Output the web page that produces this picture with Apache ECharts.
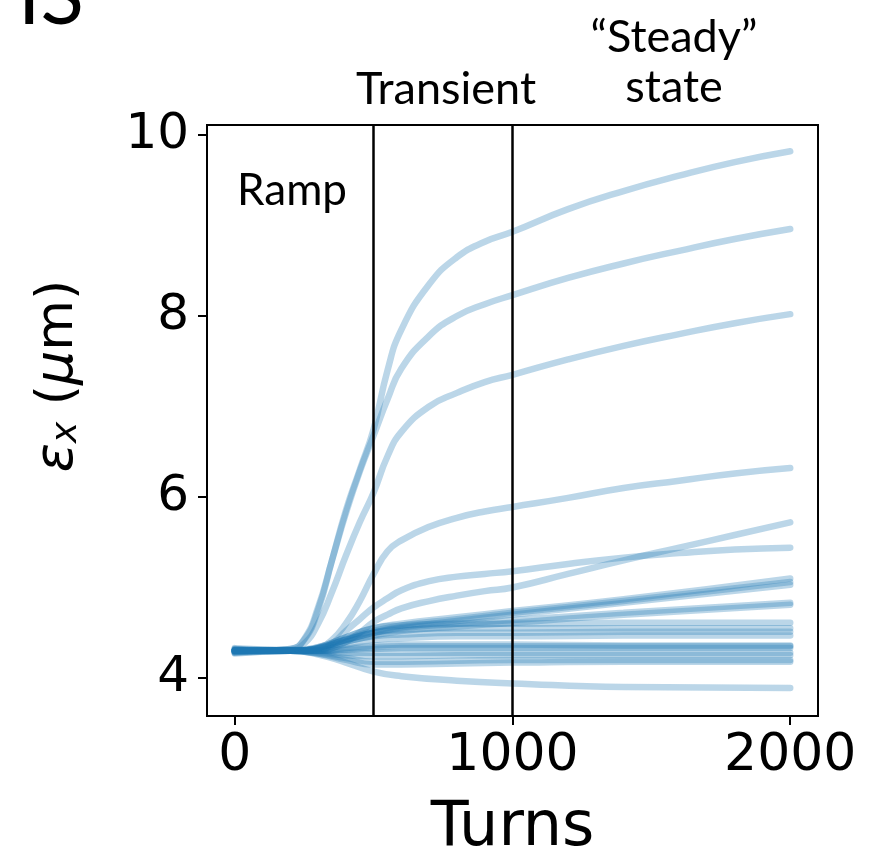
<!DOCTYPE html>
<html>
<head>
<meta charset="utf-8">
<script src="https://cdn.jsdelivr.net/npm/echarts@6/dist/echarts.min.js"></script>
<style>
  html, body { margin: 0; padding: 0; background: #fff; }
  #chart { width: 887px; height: 867px; }
</style>
</head>
<body>
<div id="chart"></div>
<script>
// turns sampled for the fast-growing curves
const turnsFine = [0, 100, 200, 250, 300, 350, 400, 450, 500, 550, 600, 700, 800, 900, 1000, 1200, 1400, 1600, 1800, 2000];
// turns sampled for the slow curves
const turnsCoarse = [0, 200, 300, 400, 500, 600, 800, 1000, 1400, 2000];

const curveA = [4.3, 4.3, 4.32, 4.42, 4.75, 5.3, 5.85, 6.3, 6.75, 7.4, 7.85, 8.35, 8.65, 8.82, 8.93, 9.18, 9.38, 9.55, 9.7, 9.82];
const curveB = [4.31, 4.3, 4.32, 4.43, 4.78, 5.3, 5.82, 6.28, 6.68, 7.08, 7.42, 7.78, 8.0, 8.13, 8.23, 8.42, 8.58, 8.72, 8.85, 8.96];
const curveC = [4.29, 4.3, 4.31, 4.38, 4.6, 4.95, 5.35, 5.72, 6.05, 6.45, 6.72, 7.0, 7.15, 7.27, 7.35, 7.52, 7.67, 7.8, 7.92, 8.02];
const curveD = [4.3, 4.3, 4.3, 4.3, 4.33, 4.42, 4.6, 4.85, 5.15, 5.4, 5.52, 5.67, 5.77, 5.84, 5.89, 5.99, 6.1, 6.18, 6.26, 6.32];
const curveE = [4.32, 4.3, 4.3, 4.3, 4.3, 4.38, 4.52, 4.65, 4.78, 4.88, 4.97, 5.07, 5.12, 5.15, 5.18, 5.26, 5.33, 5.38, 5.42, 5.44];
const curveF = [4.28, 4.3, 4.3, 4.3, 4.3, 4.33, 4.4, 4.5, 4.62, 4.7, 4.77, 4.85, 4.91, 4.96, 5.0, 5.15, 5.3, 5.44, 5.58, 5.72];

const slowCurves = [
  [4.3, 4.3, 4.34, 4.45, 4.55, 4.6, 4.67, 4.74, 4.87, 5.1],
  [4.31, 4.3, 4.33, 4.43, 4.52, 4.58, 4.65, 4.72, 4.85, 5.06],
  [4.3, 4.3, 4.33, 4.42, 4.5, 4.56, 4.63, 4.7, 4.83, 5.03],
  [4.3, 4.3, 4.33, 4.42, 4.5, 4.55, 4.6, 4.64, 4.72, 4.83],
  [4.29, 4.3, 4.32, 4.4, 4.47, 4.52, 4.57, 4.61, 4.7, 4.81],
  [4.33, 4.31, 4.34, 4.45, 4.55, 4.58, 4.6, 4.6, 4.61, 4.61],
  [4.3, 4.3, 4.33, 4.42, 4.5, 4.53, 4.55, 4.55, 4.55, 4.55],
  [4.28, 4.3, 4.32, 4.4, 4.46, 4.48, 4.5, 4.5, 4.51, 4.51],
  [4.3, 4.3, 4.31, 4.37, 4.42, 4.44, 4.46, 4.46, 4.47, 4.47],
  [4.31, 4.3, 4.3, 4.33, 4.36, 4.37, 4.37, 4.37, 4.36, 4.36],
  [4.27, 4.3, 4.3, 4.32, 4.34, 4.35, 4.35, 4.35, 4.35, 4.35],
  [4.3, 4.3, 4.3, 4.31, 4.32, 4.33, 4.33, 4.33, 4.33, 4.33],
  [4.32, 4.3, 4.29, 4.28, 4.28, 4.28, 4.28, 4.28, 4.28, 4.28],
  [4.29, 4.3, 4.28, 4.25, 4.24, 4.24, 4.25, 4.25, 4.25, 4.25],
  [4.31, 4.3, 4.27, 4.22, 4.18, 4.18, 4.19, 4.2, 4.2, 4.2],
  [4.3, 4.3, 4.27, 4.2, 4.15, 4.15, 4.16, 4.17, 4.18, 4.18],
  [4.3, 4.3, 4.26, 4.17, 4.07, 4.02, 3.97, 3.94, 3.9, 3.89]
];

const xTicks = [0, 1000, 2000];
const yTicks = [4, 6, 8, 10];
const phaseBounds = [500, 1000];

const lineColor = "rgba(31,119,180,0.3)";

function makeSeries(turns, values) {
  return {
    type: "line",
    data: turns.map((t, i) => [t, values[i]]),
    showSymbol: false,
    symbol: "none",
    smooth: 0.5,
    silent: true,
    lineStyle: { color: lineColor, width: 6.5, cap: "round", join: "round" }
  };
}

const series = [];
slowCurves.forEach(v => series.push(makeSeries(turnsCoarse, v)));
[curveF, curveE, curveD, curveC, curveB, curveA].forEach(v => series.push(makeSeries(turnsFine, v)));

series[0].markLine = {
  silent: true,
  symbol: "none",
  z: 10,
  label: { show: false },
  lineStyle: { color: "#000", width: 2.5, type: "solid" },
  data: phaseBounds.map(b => ({ xAxis: b }))
};

const chart = echarts.init(document.getElementById("chart"), null, { renderer: "canvas" });

const annFont = "Lato";

chart.setOption({
  animation: false,
  grid: {
    show: true,
    left: 207,
    top: 125,
    width: 611,
    height: 591,
    borderColor: "#000",
    borderWidth: 2,
    backgroundColor: "transparent"
  },
  xAxis: {
    type: "value",
    min: -100,
    max: 2100,
    axisLine: { show: true, onZero: false, lineStyle: { color: "#000", width: 2 } },
    splitLine: { show: false },
    axisTick: {
      show: true,
      customValues: xTicks,
      length: 9,
      lineStyle: { color: "#000", width: 2 }
    },
    axisLabel: {
      customValues: xTicks,
      formatter: v => String(v),
      color: "#000",
      fontFamily: "DejaVu Sans",
      fontSize: 52,
      margin: 14
    },
    name: "Turns",
    nameLocation: "middle",
    nameGap: 82,
    nameTextStyle: { color: "#000", fontFamily: "DejaVu Sans", fontSize: 62 }
  },
  yAxis: {
    type: "value",
    min: 3.58,
    max: 10.11,
    axisLine: { show: true, onZero: false, lineStyle: { color: "#000", width: 2 } },
    splitLine: { show: false },
    axisTick: {
      show: true,
      customValues: yTicks,
      length: 9,
      lineStyle: { color: "#000", width: 2 }
    },
    axisLabel: {
      customValues: yTicks,
      formatter: v => String(v),
      color: "#000",
      fontFamily: "DejaVu Sans",
      fontSize: 50,
      margin: 18
    }
  },
  graphic: [
    {
      type: "text",
      x: 58,
      y: 376,
      rotation: Math.PI / 2,
      style: {
        text: "{it|ε}{sub|x} ({it|μ}m)",
        align: "center",
        verticalAlign: "middle",
        fill: "#000",
        fontFamily: "DejaVu Sans",
        fontSize: 52,
        rich: {
          it: { fontFamily: "DejaVu Sans", fontStyle: "italic", fontSize: 54 },
          sub: { fontFamily: "DejaVu Sans", fontStyle: "italic", fontSize: 36, verticalAlign: "bottom", padding: [18, 0, 0, 0] }
        }
      }
    },
    {
      type: "text", x: 292, y: 213,
      style: { text: "Ramp", align: "center", verticalAlign: "bottom", fill: "#000", fontFamily: annFont, fontSize: 44 }
    },
    {
      type: "text", x: 446, y: 112,
      style: { text: "Transient", align: "center", verticalAlign: "bottom", fill: "#000", fontFamily: annFont, fontSize: 45 }
    },
    {
      type: "text", x: 674, y: 60,
      style: { text: "\u201CSteady\u201D", align: "center", verticalAlign: "bottom", fill: "#000", fontFamily: annFont, fontSize: 45 }
    },
    {
      type: "text", x: 674, y: 110,
      style: { text: "state", align: "center", verticalAlign: "bottom", fill: "#000", fontFamily: annFont, fontSize: 45 }
    },
    {
      type: "text", x: 18, y: 38,
      style: { text: "IS", align: "left", verticalAlign: "bottom", fill: "#000", fontFamily: annFont, fontSize: 80 }
    }
  ],
  series: series
});
</script>
</body>
</html>
